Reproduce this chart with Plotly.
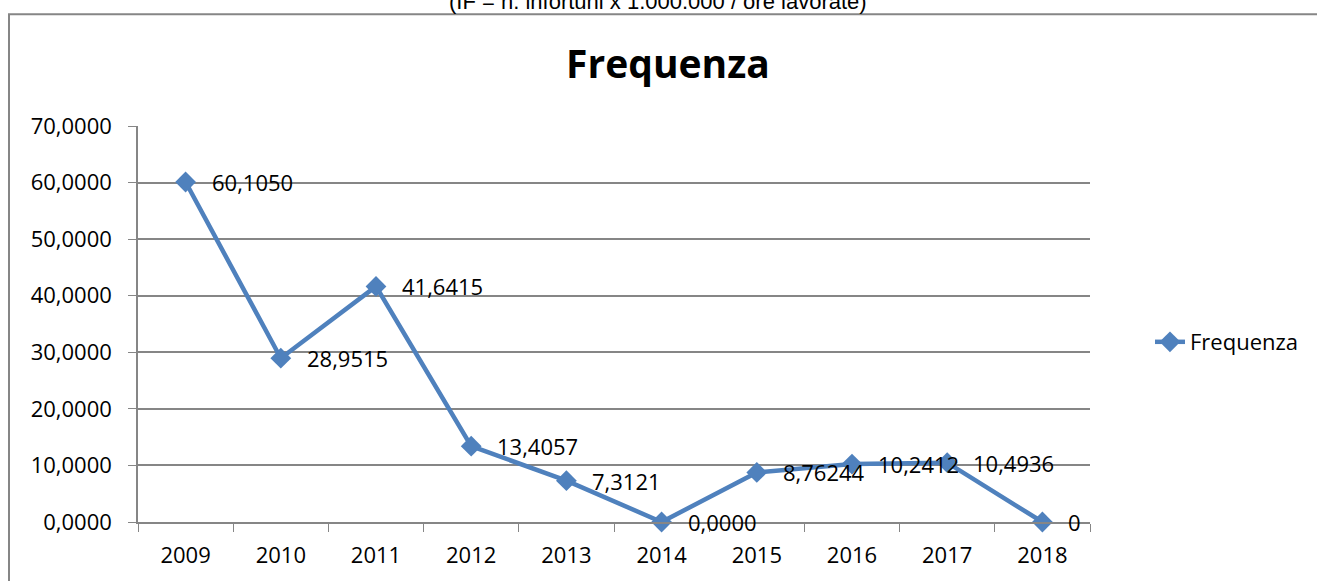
import plotly.graph_objects as go

years = ['2009', '2010', '2011', '2012', '2013', '2014', '2015', '2016', '2017', '2018']
frequenza = [60.1050, 28.9515, 41.6415, 13.4057, 7.3121, 0.0, 8.76244, 10.2412, 10.4936, 0.0]
labels = ['60,1050', '28,9515', '41,6415', '13,4057', '7,3121', '0,0000',
          '8,76244', '10,2412', '10,4936', '0']

BLUE = '#4F81BD'
GRID = '#868686'
FONT = 'Open Sans'

fig = go.Figure()

fig.add_trace(
    go.Scatter(
        x = years,
        y = frequenza,
        mode = 'lines+markers',
        name = 'Frequenza',
        line = dict(color = BLUE, width = 4.5),
        marker = dict(symbol = 'diamond', size = 16, color = BLUE),
        cliponaxis = False
    )
)

# data labels to the right of each point (x given as category index)
for i, (val, lab) in enumerate(zip(frequenza, labels)):
    fig.add_annotation(
        x = i, y = val, text = lab,
        showarrow = False, xanchor = 'left', yanchor = 'middle',
        xshift = 24,
        font = dict(family = FONT, size = 22, color = '#000000')
    )

# outer chart frame
fig.add_shape(
    type = 'rect', xref = 'paper', yref = 'paper',
    x0 = -0.1355, x1 = 1.3, y0 = -0.3, y1 = 1.2825,
    line = dict(color = GRID, width = 2), fillcolor = 'rgba(0,0,0,0)',
    layer = 'below'
)

fig.add_annotation(
    text = '(IF = n. infortuni x 1.000.000 / ore lavorate)',
    xref = 'paper', yref = 'paper', x = 0.5465, y = 1.279,
    xanchor = 'center', yanchor = 'bottom',
    showarrow = False, font = dict(family = 'Liberation Sans', size = 22, color = '#000000')
)

fig.update_layout(
    width = 1317,
    height = 581,
    margin = dict(l = 138, r = 227, t = 126, b = 59),
    paper_bgcolor = 'white',
    plot_bgcolor = 'white',
    separators = ',.',
    title = dict(
        text = '<b>Frequenza</b>',
        x = 0.5072, xanchor = 'center',
        y = 0.89, yanchor = 'middle',
        font = dict(family = FONT, size = 39, color = '#000000')
    ),
    xaxis = dict(
        type = 'category',
        tickson = 'boundaries',
        ticks = 'outside', ticklen = 8, tickcolor = GRID,
        ticklabelstandoff = 13,
        showgrid = False,
        showline = True, linecolor = GRID, linewidth = 1.5,
        tickfont = dict(family = FONT, size = 22, color = '#000000'),
        range = [-0.5, 9.5]
    ),
    yaxis = dict(
        range = [0, 70],
        dtick = 10,
        tickformat = '.4f',
        ticks = 'outside', ticklen = 8, tickcolor = GRID,
        ticklabelstandoff = 12,
        showgrid = True, gridcolor = GRID, gridwidth = 1.5,
        showline = True, linecolor = GRID, linewidth = 1.5,
        zeroline = False,
        tickfont = dict(family = FONT, size = 22, color = '#000000')
    ),
    showlegend = True,
    legend = dict(
        x = 1.063, y = 0.4545, xanchor = 'left', yanchor = 'middle',
        font = dict(family = FONT, size = 22, color = '#000000'),
        bgcolor = 'rgba(0,0,0,0)'
    )
)

fig.write_html('out.html', config = dict(displayModeBar = False),
               post_script = "document.body.style.margin = '0';")
